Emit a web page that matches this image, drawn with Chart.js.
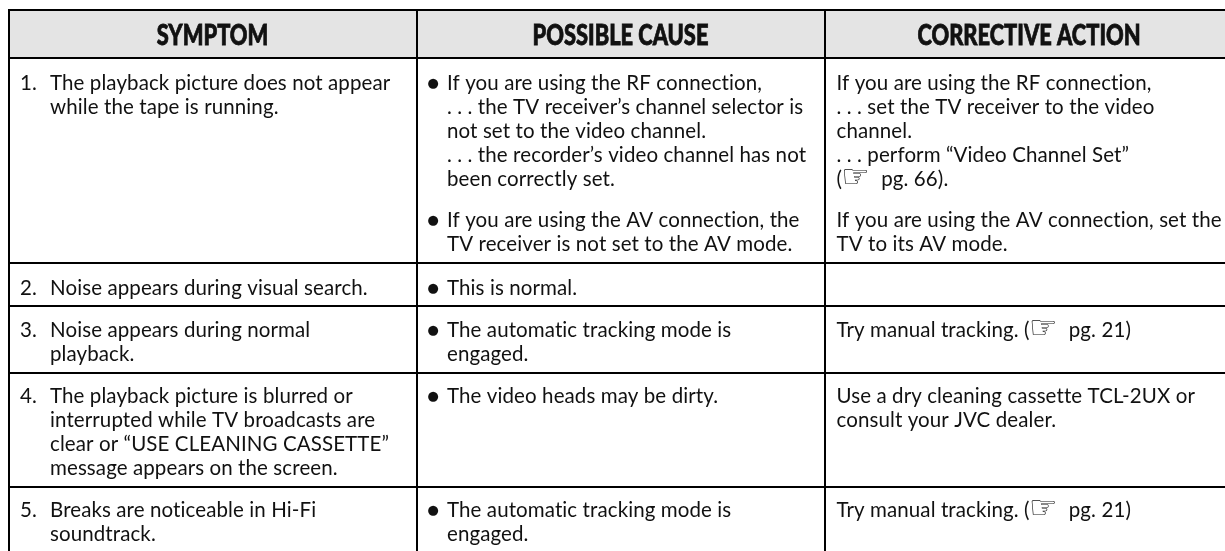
<!DOCTYPE html>
<html lang="en">
<head>
  <meta charset="UTF-8">
  <title>Troubleshooting Table</title>
  <script src="https://cdn.jsdelivr.net/npm/chart.js"></script>
  <style>
    body { margin: 0; background: #fff; }
    #box { width: 1225px; height: 551px; }
  </style>
</head>
<body>
  <div id="box"><canvas id="tableChart" width="1225" height="551"></canvas></div>

  <script>
    const headers = ['SYMPTOM', 'POSSIBLE CAUSE', 'CORRECTIVE ACTION'];
    const numbers = ['1.', '2.', '3.', '4.', '5.'];

    // '' marks a paragraph gap, '●' lines start a bullet
    const symptoms = [
      ['The playback picture does not appear', 'while the tape is running.'],
      ['Noise appears during visual search.'],
      ['Noise appears during normal', 'playback.'],
      ['The playback picture is blurred or', 'interrupted while TV broadcasts are', 'clear or “USE CLEANING CASSETTE”', 'message appears on the screen.'],
      ['Breaks are noticeable in Hi-Fi', 'soundtrack.']
    ];
    const causes = [
      ['●If you are using the RF connection,', '. . . the TV receiver’s channel selector is', 'not set to the video channel.', '. . . the recorder’s video channel has not', 'been correctly set.', '', '●If you are using the AV connection, the', 'TV receiver is not set to the AV mode.'],
      ['●This is normal.'],
      ['●The automatic tracking mode is', 'engaged.'],
      ['●The video heads may be dirty.'],
      ['●The automatic tracking mode is', 'engaged.']
    ];
    const actions = [
      ['If you are using the RF connection,', '. . . set the TV receiver to the video', 'channel.', '. . . perform “Video Channel Set”', '(☞ pg. 66).', '', 'If you are using the AV connection, set the', 'TV to its AV mode.'],
      [],
      ['Try manual tracking. (☞ pg. 21)'],
      ['Use a dry cleaning cassette TCL-2UX or', 'consult your JVC dealer.'],
      ['Try manual tracking. (☞ pg. 21)']
    ];

    // table layout, in axis units
    const columnRules = [9, 417, 825];
    const rowRules = [10, 58, 263, 306, 373, 487];
    const firstBaselines = [90, 294.5, 337, 403, 517];
    const headCentres = [212.5, 620.5, 1029];
    const tableRight = 1225;
    const tableBottom = 551;
    const linePitch = 24.1;
    const paragraphGap = 16.6;
    const bodyFont = '20.5px Lato, "DejaVu Sans", sans-serif';
    const handFont = '32px "DejaVu Sans", sans-serif';
    const headFont = '900 28px Lato, "Liberation Sans", sans-serif';
    const headStretch = 0.78;

    const tableText = {
      id: 'tableText',
      afterDraw(chart) {
        const { ctx, scales: { x, y } } = chart;
        ctx.save();
        ctx.fillStyle = '#111';
        ctx.strokeStyle = '#111';
        ctx.textBaseline = 'alphabetic';

        ctx.font = headFont;
        ctx.textAlign = 'center';
        ctx.lineWidth = 0.8;
        headers.forEach((h, i) => {
          ctx.save();
          ctx.translate(x.getPixelForValue(headCentres[i]), y.getPixelForValue(45));
          ctx.scale(headStretch, 1);
          ctx.fillText(h, 0, 0);
          ctx.strokeText(h, 0, 0); // the original face is heavier than Lato Black
          ctx.restore();
        });

        ctx.font = bodyFont;
        ctx.textAlign = 'left';
        ctx.letterSpacing = '0.1px'; // also turns off the Lato ligatures

        const drawLine = (line, textX, pos) => {
          let px = x.getPixelForValue(textX);
          const py = y.getPixelForValue(pos);
          line.split('☞').forEach((part, i) => {
            if (i > 0) {
              ctx.font = handFont;
              ctx.fillText('☞', px - 1, py + 1);
              px += ctx.measureText('☞').width + 5;
              ctx.font = bodyFont;
            }
            ctx.fillText(part, px, py);
            px += ctx.measureText(part).width;
          });
        };
        const drawCell = (lines, textX, startY) => {
          let pos = startY;
          lines.forEach(line => {
            if (line === '') { pos += paragraphGap; return; }
            if (line[0] === '●') {
              drawLine('●', textX - 20, pos);
              line = line.slice(1);
            }
            drawLine(line, textX, pos);
            pos += linePitch;
          });
        };
        firstBaselines.forEach((base, r) => {
          drawLine(numbers[r], 20, base);
          drawCell(symptoms[r], 50, base);
          drawCell(causes[r], 447, base);
          drawCell(actions[r], 836.5, base);
        });
        ctx.restore();
      }
    };

    new Chart(document.getElementById('tableChart'), {
      type: 'scatter',
      data: {
        datasets: [{
          // grey header band
          data: [{ x: columnRules[0], y: rowRules[1] }, { x: tableRight, y: rowRules[1] }],
          showLine: true,
          borderWidth: 0,
          pointRadius: 0,
          backgroundColor: '#e4e4e4',
          fill: { value: rowRules[0] }
        }]
      },
      options: {
        responsive: false,
        animation: false,
        layout: { padding: { left: 8, top: 9, right: 0, bottom: 0 } },
        plugins: { legend: { display: false }, tooltip: { enabled: false } },
        scales: {
          x: {
            type: 'linear', min: 8, max: tableRight,
            afterBuildTicks: axis => { axis.ticks = columnRules.map(value => ({ value })); },
            ticks: { display: false },
            border: { display: false },
            grid: { color: '#000', lineWidth: 2, drawTicks: false, z: 1 }
          },
          y: {
            type: 'linear', min: 9, max: tableBottom, reverse: true,
            afterBuildTicks: axis => { axis.ticks = rowRules.map(value => ({ value })); },
            ticks: { display: false },
            border: { display: false },
            grid: { color: '#000', lineWidth: 2, drawTicks: false, z: 1 }
          }
        }
      },
      plugins: [tableText]
    });
  </script>
</body>
</html>
